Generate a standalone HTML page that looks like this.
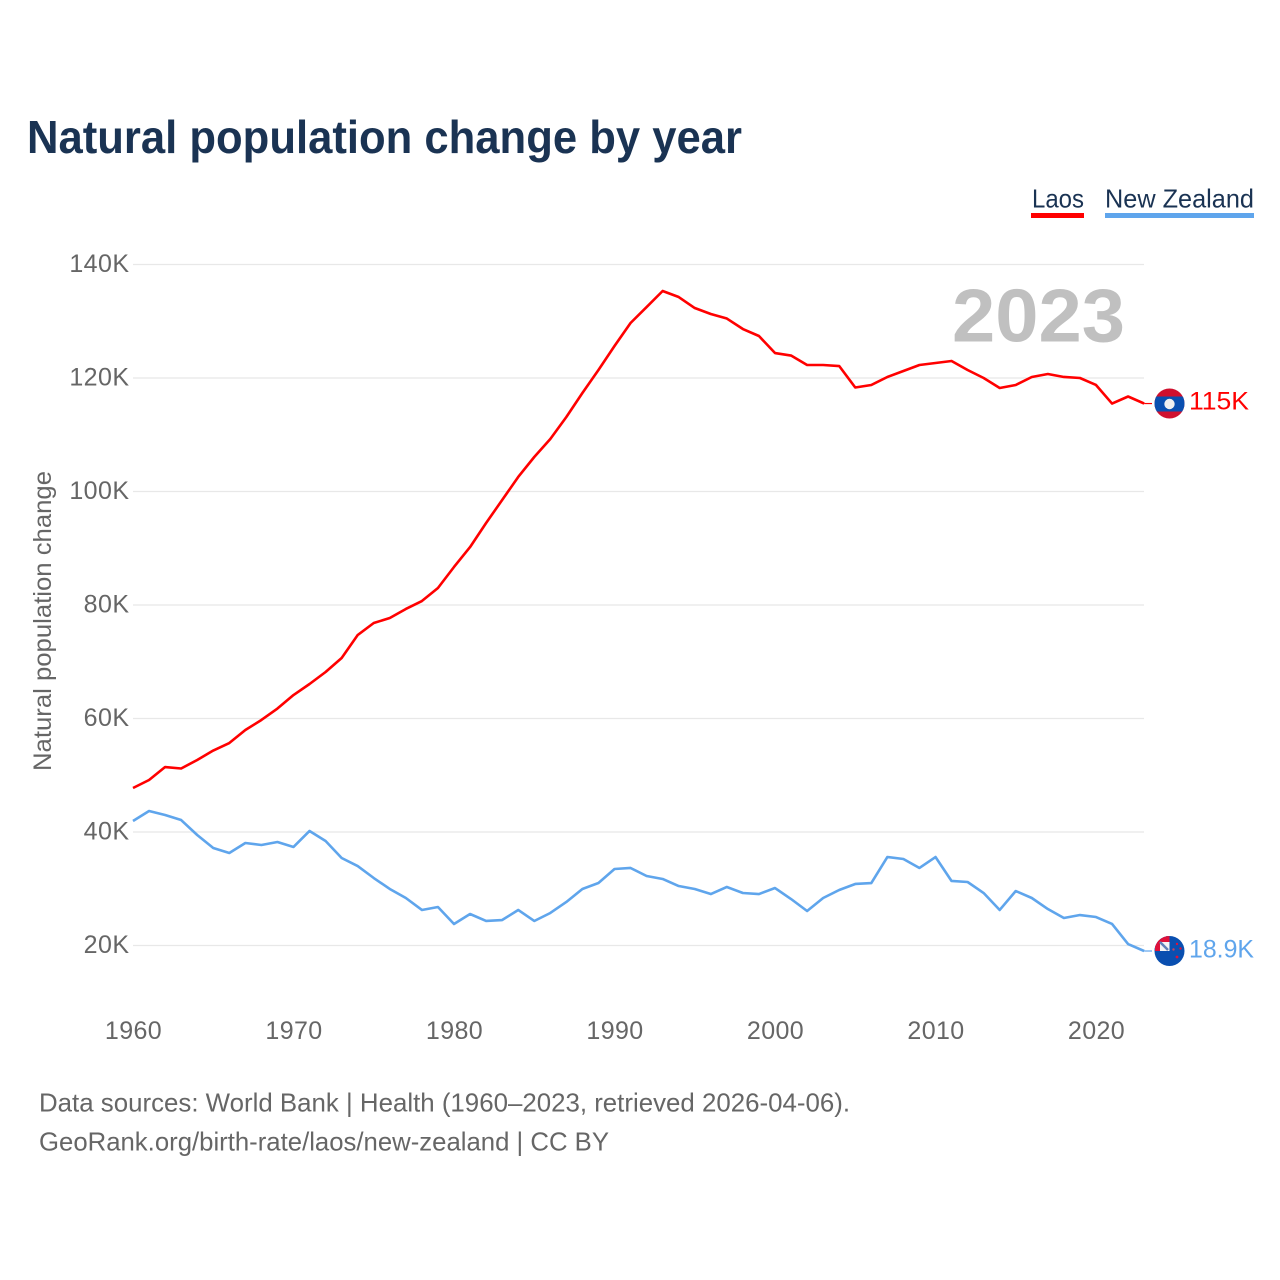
<!DOCTYPE html>
<html lang="en">
<head>
<meta charset="utf-8">
<title>Natural population change by year</title>
<style>
html,body{margin:0;padding:0;background:#fff;}
svg{display:block;}
text{font-family:"Liberation Sans",sans-serif;}
</style>
</head>
<body>
<svg id="chart" xmlns="http://www.w3.org/2000/svg" width="1280" height="1280" viewBox="0 0 1280 1280">
  <defs>
    <clipPath id="clip-laos"><circle cx="1169.5" cy="403.5" r="15"/></clipPath>
    <clipPath id="clip-nz"><circle cx="1169.5" cy="951" r="15"/></clipPath>
    <clipPath id="clip-canton"><rect x="1154.5" y="936" width="15" height="15"/></clipPath>
  </defs>
  <rect width="1280" height="1280" fill="#ffffff"/>
  <text x="27" y="153" font-size="46" font-weight="700" fill="#1a3353" textLength="715" lengthAdjust="spacingAndGlyphs">Natural population change by year</text>

  <g>
    <text x="1032" y="207.5" font-size="26" fill="#1a3353" textLength="52" lengthAdjust="spacingAndGlyphs">Laos</text>
    <rect x="1031" y="213" width="53" height="5" fill="#ff0000"/>
  </g>
  <g>
    <text x="1105" y="207.5" font-size="26" fill="#1a3353" textLength="149" lengthAdjust="spacingAndGlyphs">New Zealand</text>
    <rect x="1105" y="213" width="149" height="5" fill="#5fa5ec"/>
  </g>

  <g id="grid"></g>
  <g id="y-ticks"></g>
  <g id="x-ticks"></g>

  <text transform="translate(51,621) rotate(-90)" text-anchor="middle" font-size="25" fill="#666666" textLength="300" lengthAdjust="spacingAndGlyphs">Natural population change</text>

  <text x="1125" y="341.5" text-anchor="end" font-size="75" font-weight="700" fill="#c0c0c0" textLength="173" lengthAdjust="spacingAndGlyphs">2023</text>

  <g id="series"></g>

  <g clip-path="url(#clip-laos)">
    <rect x="1154" y="388" width="31" height="31" fill="#d0102e"/>
    <rect x="1154" y="396.5" width="31" height="15" fill="#0a4fb0"/>
    <circle cx="1169.5" cy="404" r="5.2" fill="#f0f0f0"/>
  </g>
  <g clip-path="url(#clip-nz)">
    <rect x="1154" y="936" width="31" height="31" fill="#0a4fb0"/>
    <g clip-path="url(#clip-canton)">
      <rect x="1154.5" y="936" width="15" height="15" fill="#0a4fb0"/>
      <rect x="1154.5" y="936" width="15" height="6" fill="#e0103a"/>
      <rect x="1155" y="936" width="5" height="15" fill="#e0103a"/>
      <rect x="1160" y="942" width="9.5" height="9" fill="#f4f4f4"/>
      <path d="M1160 942L1168 950" stroke="#5f7fb8" stroke-width="2.5"/>
    </g>
    <circle cx="1177" cy="944" r="1.2" fill="#e0103a"/>
    <circle cx="1173.5" cy="949.5" r="1.2" fill="#c84060"/>
    <circle cx="1180.5" cy="948.5" r="1.2" fill="#e0103a"/>
    <circle cx="1177" cy="957" r="1.4" fill="#e0103a"/>
  </g>

  <text x="1189" y="409.5" font-size="25" fill="#ff0000" textLength="60" lengthAdjust="spacingAndGlyphs">115K</text>
  <text x="1189" y="957.5" font-size="25" fill="#5fa5ec" textLength="65" lengthAdjust="spacingAndGlyphs">18.9K</text>

  <text x="39" y="1111.5" font-size="26" fill="#666666" textLength="811" lengthAdjust="spacingAndGlyphs">Data sources: World Bank | Health (1960–2023, retrieved 2026-04-06).</text>
  <text x="39" y="1150.5" font-size="26" fill="#666666" textLength="570" lengthAdjust="spacingAndGlyphs">GeoRank.org/birth-rate/laos/new-zealand | CC BY</text>
</svg>
<script>
var years = [];
for (var yr = 1960; yr <= 2023; yr++) { years.push(yr); }
var laosValues = [47.75,49.16,51.45,51.19,52.69,54.36,55.68,57.97,59.74,61.76,64.14,66.08,68.19,70.66,74.71,76.83,77.71,79.30,80.70,83.0,86.7,90.2,94.45,98.5,102.56,106.08,109.25,113.13,117.36,121.41,125.64,129.69,132.5,135.33,134.27,132.33,131.28,130.48,128.63,127.4,124.4,123.96,122.29,122.29,122.11,118.33,118.77,120.18,121.23,122.29,122.64,123.0,121.41,120.0,118.24,118.77,120.18,120.7,120.18,120.0,118.77,115.5,116.74,115.5];
var newZealandValues = [41.94,43.7,43.0,42.11,39.47,37.18,36.3,38.06,37.71,38.24,37.36,40.18,38.41,35.42,34.0,31.89,29.96,28.37,26.26,26.78,23.79,25.55,24.32,24.49,26.26,24.32,25.73,27.67,29.96,31.01,33.48,33.66,32.25,31.72,30.48,29.96,29.07,30.31,29.25,29.07,30.13,28.19,26.08,28.37,29.78,30.84,31.01,35.59,35.24,33.66,35.59,31.37,31.19,29.25,26.26,29.6,28.37,26.43,24.85,25.37,25.02,23.79,20.26,19.03];
var yTickValues = [20,40,60,80,100,120,140];
var yTickLabels = ["20K","40K","60K","80K","100K","120K","140K"];
var xTickYears = [1960,1970,1980,1990,2000,2010,2020];

var NS = "http://www.w3.org/2000/svg";
function xScale(y) { return 133 + (y - 1960) * 16.05; }
function yScale(v) { return 945.5 - (v - 20) * 5.675; }

var gridG = document.getElementById("grid");
var yTickG = document.getElementById("y-ticks");
var xTickG = document.getElementById("x-ticks");
var seriesG = document.getElementById("series");

yTickValues.forEach(function (v, i) {
  var line = document.createElementNS(NS, "line");
  line.setAttribute("x1", 133);
  line.setAttribute("x2", 1144);
  line.setAttribute("y1", yScale(v));
  line.setAttribute("y2", yScale(v));
  line.setAttribute("stroke", "#e8e8e8");
  line.setAttribute("stroke-width", "1.2");
  
  
  gridG.appendChild(line);

  var label = document.createElementNS(NS, "text");
  label.setAttribute("x", 129.5);
  label.setAttribute("y", yScale(v) + 7.5);
  label.setAttribute("text-anchor", "end");
  label.setAttribute("font-size", "25");
  label.setAttribute("letter-spacing", "0.45");
  label.setAttribute("fill", "#666666");
  label.textContent = yTickLabels[i];
  
  
  yTickG.appendChild(label);
});

xTickYears.forEach(function (y) {
  var label = document.createElementNS(NS, "text");
  label.setAttribute("x", xScale(y) + 0.5);
  label.setAttribute("y", 1039);
  label.setAttribute("text-anchor", "middle");
  label.setAttribute("font-size", "25");
  label.setAttribute("letter-spacing", "0.4");
  label.setAttribute("fill", "#666666");
  label.textContent = String(y);
  
  
  xTickG.appendChild(label);
});

function drawSeries(values, color, lineName, leaderName) {
  var pts = values.map(function (v, i) {
    return xScale(years[i]).toFixed(2) + "," + yScale(v).toFixed(2);
  }).join(" ");
  var poly = document.createElementNS(NS, "polyline");
  poly.setAttribute("points", pts);
  poly.setAttribute("fill", "none");
  poly.setAttribute("stroke", color);
  poly.setAttribute("stroke-width", "2.6");
  poly.setAttribute("stroke-linejoin", "round");
  
  
  seriesG.appendChild(poly);

  var last = values[values.length - 1];
  var leader = document.createElementNS(NS, "line");
  leader.setAttribute("x1", xScale(years[years.length - 1]));
  leader.setAttribute("x2", 1152);
  leader.setAttribute("y1", yScale(last));
  leader.setAttribute("y2", yScale(last));
  leader.setAttribute("stroke", color);
  leader.setAttribute("stroke-width", "1.2");
  
  
  seriesG.appendChild(leader);
}
drawSeries(laosValues, "#ff0000", "line-laos", "leader-laos");
drawSeries(newZealandValues, "#5fa5ec", "line-new-zealand", "leader-new-zealand");
</script>
</body>
</html>
